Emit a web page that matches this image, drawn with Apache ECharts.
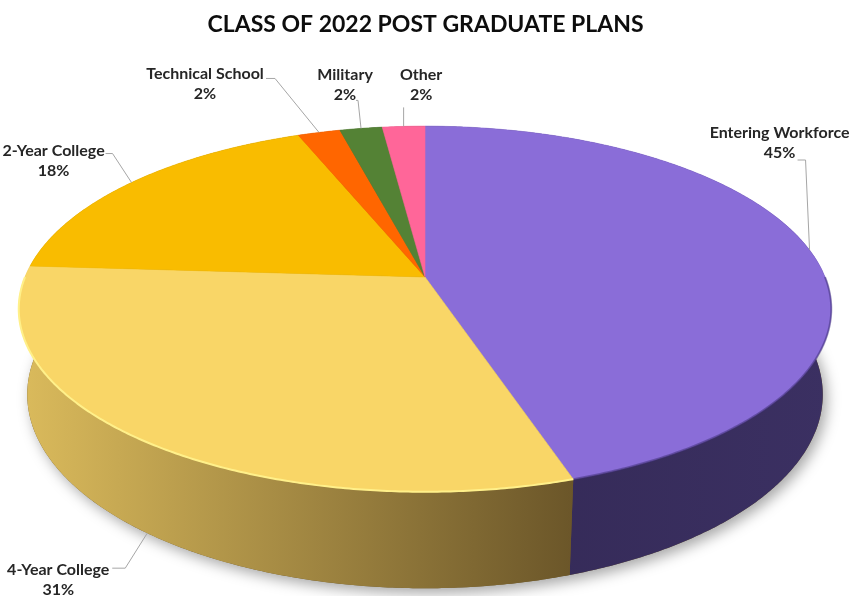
<!DOCTYPE html>
<html>
<head>
<meta charset="utf-8">
<script src="https://cdn.jsdelivr.net/npm/echarts@6/dist/echarts.min.js"></script>
<style>
  html, body { margin: 0; padding: 0; background: #ffffff; }
  #chart { width: 851px; height: 596px; }
</style>
</head>
<body>
<div id="chart"></div>
<script>
// Post-graduate plans, share of the class (%)
const categories = ['Entering Workforce', '4-Year College', '2-Year College', 'Technical School', 'Military', 'Other'];
const percents = [45, 31, 18, 2, 2, 2];
const titleText = 'CLASS OF 2022 POST GRADUATE PLANS';

// Slice styling
const topColors = ['#8A6DD8', '#F9D667', '#F9BC00', '#FF6600', '#548235', '#FF6699'];
const wallGradients = [
  ['#332955', '#3B3062'],
  ['#DBBB5C', '#6B5629'],
  ['#B08700', '#6E5400'],
  ['#B34700', '#6E2C00'],
  ['#3A5B25', '#24391A'],
  ['#B3476B', '#6E2C42']
];
const rimColors = ['rgba(70,52,130,0.55)', '#FFF08A', null, null, null, null];

// Label placement relative to each slice's rim point: [dx, dy] of the text block,
// leader elbow and leader end
const labelOffsets = [[-30, -107], [-89, 47], [-78, -22], [-114, -49], [-16, -44], [17.5, -42]];
const leaderElbows = [[-4, -90], [-22, 35], [-19, -29], [-44, -54], [-3, -28], [0, -19]];
const leaderEnds = [[-12, -90], [-35, 35], [-26, -29], [-53, -54], [-5, -28], [0, -19]];

// Cylinder projection (camera tilted above the disc, perspective)
const view = { cx: 425, cy: 277, f: 2052, D: 5.13, tilt: 26.3 * Math.PI / 180, H: 0.24 };
const sa = Math.sin(view.tilt), ca = Math.cos(view.tilt);

function project(theta, y) {
  const X = Math.sin(theta), Z = Math.cos(theta);
  const depth = -y * sa + Z * ca + view.D;
  const up = y * ca + Z * sa;
  return [view.cx + view.f * X / depth, view.cy - view.f * up / depth];
}

function arc(a, b, y) {
  const pts = [];
  const n = Math.max(2, Math.ceil(Math.abs(b - a) / (Math.PI / 360)));
  for (let k = 0; k <= n; k++) pts.push(project(a + (b - a) * k / n, y));
  return pts;
}

const total = percents.reduce((s, v) => s + v, 0);
const startFrac = [];
percents.reduce((acc, v) => { startFrac.push(acc / total); return acc + v; }, 0);

function sliceAngles(i) {
  const a = startFrac[i] * 2 * Math.PI;
  const b = a + percents[i] / total * 2 * Math.PI;
  return [a, b];
}

const seriesData = percents.map((v, i) => ({ name: categories[i], value: [v, i] }));

const chart = echarts.init(document.getElementById('chart'), null, { renderer: 'canvas' });

chart.setOption({
  backgroundColor: '#ffffff',
  animation: false,
  title: {
    text: titleText,
    left: 'center',
    top: 8,
    textStyle: { fontFamily: 'Lato', fontWeight: 'bold', fontSize: 23, color: '#0D0D0D' }
  },
  series: [
    {
      // base disc carrying the soft drop shadow
      type: 'custom',
      coordinateSystem: 'none',
      silent: true,
      z: 1,
      data: [[0]],
      renderItem: function () {
        return {
          type: 'polygon',
          shape: { points: arc(0, 2 * Math.PI, -view.H) },
          style: {
            fill: '#6B5629',
            shadowColor: 'rgba(0,0,0,0.35)',
            shadowBlur: 14,
            shadowOffsetX: 4,
            shadowOffsetY: 5
          }
        };
      }
    },
    {
      // outer side walls
      type: 'custom',
      coordinateSystem: 'none',
      silent: true,
      z: 2,
      data: seriesData,
      renderItem: function (params, api) {
        const i = api.value(1);
        const [a, b] = sliceAngles(i);
        const pts = arc(a, b, 0).concat(arc(b, a, -view.H));
        const g = wallGradients[i];
        return {
          type: 'polygon',
          shape: { points: pts },
          style: {
            fill: new echarts.graphic.LinearGradient(0, 0, 1, 0, [
              { offset: 0, color: g[0] },
              { offset: 1, color: g[1] }
            ])
          }
        };
      }
    },
    {
      // top faces with rim highlight
      type: 'custom',
      coordinateSystem: 'none',
      silent: true,
      z: 3,
      data: seriesData,
      renderItem: function (params, api) {
        const i = api.value(1);
        const [a, b] = sliceAngles(i);
        const children = [{
          type: 'polygon',
          shape: { points: [[view.cx, view.cy]].concat(arc(a, b, 0)) },
          style: { fill: topColors[i], stroke: topColors[i], lineWidth: 0.6 }
        }];
        if (rimColors[i]) {
          const fa = Math.max(a, Math.PI / 2), fb = Math.min(b, 3 * Math.PI / 2);
          if (fb > fa) {
            children.push({
              type: 'polyline',
              shape: { points: arc(fa, fb, 0) },
              style: { stroke: rimColors[i], lineWidth: 2, fill: null }
            });
          }
        }
        return { type: 'group', children: children };
      }
    },
    {
      // category labels with leader lines
      type: 'custom',
      coordinateSystem: 'none',
      silent: true,
      z: 4,
      data: seriesData,
      renderItem: function (params, api) {
        const i = api.value(1);
        const [a, b] = sliceAngles(i);
        const mid = (a + b) / 2;
        const rim = project(mid, Math.cos(mid) < 0 ? -view.H : 0);
        const lo = labelOffsets[i], le = leaderElbows[i], ln = leaderEnds[i];
        return {
          type: 'group',
          children: [
            {
              type: 'polyline',
              shape: { points: [rim, [rim[0] + le[0], rim[1] + le[1]], [rim[0] + ln[0], rim[1] + ln[1]]] },
              style: { stroke: '#A6A6A6', lineWidth: 1, fill: null }
            },
            {
              type: 'text',
              style: {
                x: rim[0] + lo[0],
                y: rim[1] + lo[1],
                text: categories[i] + '\n' + api.value(0) + '%',
                font: 'bold 16px Lato',
                lineHeight: 20,
                fill: '#262626',
                textAlign: 'center',
                textVerticalAlign: 'middle'
              }
            }
          ]
        };
      }
    }
  ]
});
</script>
</body>
</html>
